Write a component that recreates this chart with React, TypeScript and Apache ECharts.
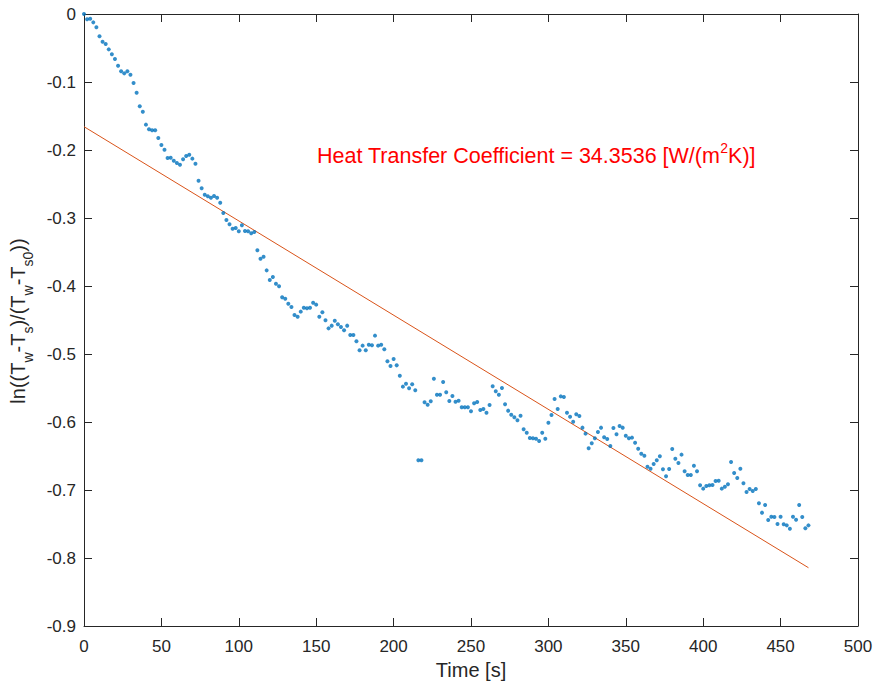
import React, { useEffect, useRef } from "react";
import * as echarts from "echarts";

// Time samples [s]
const times: number[] = [
  0, 2, 4, 6, 8, 10, 12, 14, 16, 18, 20, 22, 24, 26, 28, 30, 32, 34, 36, 38,
  40, 42, 44, 46, 48, 50, 52, 54, 56, 58, 60, 62, 64, 66, 68, 70, 72, 74, 76, 78,
  80, 82, 84, 86, 88, 90, 92, 94, 96, 98, 100, 102, 104, 106, 108, 110, 112, 114, 116, 118,
  120, 122, 124, 126, 128, 130, 132, 134, 136, 138, 140, 142, 144, 146, 148, 150, 152, 154, 156, 158,
  160, 162, 164, 166, 168, 170, 172, 174, 176, 178, 180, 182, 184, 186, 188, 190, 192, 194, 196, 198,
  200, 202, 204, 206, 208, 210, 212, 214, 216, 218, 220, 222, 224, 226, 228, 230, 232, 234, 236, 238,
  240, 242, 244, 246, 248, 250, 252, 254, 256, 258, 260, 262, 264, 266, 268, 270, 272, 274, 276, 278,
  280, 282, 284, 286, 288, 290, 292, 294, 296, 298, 300, 302, 304, 306, 308, 310, 312, 314, 316, 318,
  320, 322, 324, 326, 328, 330, 332, 334, 336, 338, 340, 342, 344, 346, 348, 350, 352, 354, 356, 358,
  360, 362, 364, 366, 368, 370, 372, 374, 376, 378, 380, 382, 384, 386, 388, 390, 392, 394, 396, 398,
  400, 402, 404, 406, 408, 410, 412, 414, 416, 418, 420, 422, 424, 426, 428, 430, 432, 434, 436, 438,
  440, 442, 444, 446, 448, 450, 452, 454, 456, 458, 460, 462, 464, 466, 468,
];

// ln((Tw-Ts)/(Tw-Ts0)) measured values
const logRatio: number[] = [
  0, -0.0078, -0.0069, -0.0123, -0.0196, -0.0328, -0.0407, -0.0441, -0.052, -0.0593,
  -0.0662, -0.076, -0.0843, -0.0873, -0.0843, -0.0892, -0.1015, -0.1157, -0.1358, -0.1436,
  -0.1627, -0.1696, -0.1711, -0.1711, -0.1824, -0.1926, -0.1995, -0.2118, -0.2113, -0.2157,
  -0.2191, -0.2216, -0.2137, -0.2088, -0.2069, -0.2127, -0.2201, -0.2451, -0.2564, -0.2657,
  -0.2681, -0.2701, -0.2676, -0.2701, -0.2775, -0.2926, -0.3029, -0.3093, -0.3157, -0.3147,
  -0.3196, -0.3108, -0.3191, -0.3196, -0.3225, -0.3206, -0.3475, -0.3598, -0.3569, -0.377,
  -0.3912, -0.3868, -0.3966, -0.4005, -0.4167, -0.4186, -0.426, -0.4309, -0.4426, -0.4451,
  -0.4377, -0.4319, -0.4328, -0.4319, -0.4245, -0.4274, -0.4451, -0.4387, -0.4505, -0.4623,
  -0.4583, -0.451, -0.4564, -0.4603, -0.4652, -0.4583, -0.4721, -0.4721, -0.4814, -0.4946,
  -0.4877, -0.4946, -0.4863, -0.4872, -0.473, -0.4877, -0.4863, -0.4931, -0.5108, -0.5176,
  -0.5074, -0.5167, -0.5319, -0.548, -0.5436, -0.5505, -0.5446, -0.5534, -0.6564, -0.6564,
  -0.5711, -0.5745, -0.5696, -0.5363, -0.5598, -0.5598, -0.5412, -0.5564, -0.5691, -0.5618,
  -0.5701, -0.5686, -0.5784, -0.5784, -0.5784, -0.5843, -0.5725, -0.5706, -0.5824, -0.5809,
  -0.5863, -0.575, -0.5475, -0.5549, -0.5598, -0.55, -0.574, -0.5833, -0.5892, -0.5931,
  -0.5975, -0.5907, -0.6108, -0.6157, -0.6235, -0.624, -0.6245, -0.6279, -0.6157, -0.6245,
  -0.601, -0.5897, -0.5662, -0.5809, -0.5623, -0.5632, -0.5863, -0.5922, -0.5995, -0.5887,
  -0.5912, -0.6083, -0.6171, -0.6387, -0.6314, -0.624, -0.6147, -0.6083, -0.6225, -0.625,
  -0.6353, -0.6088, -0.6181, -0.6059, -0.6083, -0.6201, -0.624, -0.623, -0.6304, -0.6392,
  -0.6466, -0.6495, -0.6657, -0.6686, -0.6618, -0.6564, -0.6505, -0.6696, -0.6799, -0.6691,
  -0.6397, -0.6539, -0.6603, -0.648, -0.6725, -0.6779, -0.6779, -0.6642, -0.6725, -0.6931,
  -0.698, -0.6941, -0.6931, -0.6926, -0.6868, -0.6863, -0.698, -0.6951, -0.6916, -0.6588,
  -0.675, -0.6824, -0.6686, -0.6902, -0.7029, -0.6985, -0.7015, -0.6985, -0.7196, -0.7333,
  -0.7221, -0.7441, -0.7392, -0.7397, -0.75, -0.7392, -0.7505, -0.752, -0.7569, -0.7392,
  -0.7436, -0.7221, -0.7397, -0.7564, -0.752,
];

// Linear fit endpoints
const fitTimes: number[] = [0, 468];
const fitValues: number[] = [-0.1657, -0.8143];

const xTicks = { min: 0, max: 500, interval: 50 };
const yTicks = { min: -0.9, max: 0, interval: 0.1 };

const annotationMain = "Heat Transfer Coefficient = 34.3536 [W/(m";
const annotationSup = "2";
const annotationEnd = "K)]";
const xAxisTitle = "Time [s]";

const FONT = "'Liberation Sans', Arial, Helvetica, sans-serif";
const AXIS_COLOR = "#262626";

export default function App() {
  const ref = useRef<HTMLDivElement>(null);

  useEffect(() => {
    if (!ref.current) return;
    const chart = echarts.init(ref.current, undefined, { renderer: "svg" });

    const scatterData = times.map((t, i) => [t, logRatio[i]]);
    const fitData = fitTimes.map((t, i) => [t, fitValues[i]]);

    const commonAxisLine = { show: true, onZero: false, lineStyle: { color: AXIS_COLOR, width: 1 } };
    const commonTick = { show: true, inside: true, length: 8, lineStyle: { color: AXIS_COLOR, width: 1 } };

    chart.setOption({
      animation: false,
      backgroundColor: "#ffffff",
      textStyle: { fontFamily: FONT },
      grid: { left: 84, right: 19, top: 14, bottom: 60, containLabel: false },
      xAxis: [
        {
          type: "value",
          position: "bottom",
          min: xTicks.min,
          max: xTicks.max,
          interval: xTicks.interval,
          axisLine: commonAxisLine,
          axisTick: commonTick,
          splitLine: { show: false },
          axisLabel: { color: AXIS_COLOR, fontSize: 17, margin: 12, fontFamily: FONT },
          name: xAxisTitle,
          nameLocation: "middle",
          nameGap: 34,
          nameTextStyle: { color: AXIS_COLOR, fontSize: 20, fontFamily: FONT },
        },
        {
          type: "value",
          position: "top",
          min: xTicks.min,
          max: xTicks.max,
          interval: xTicks.interval,
          axisLine: commonAxisLine,
          axisTick: commonTick,
          splitLine: { show: false },
          axisLabel: { show: false },
        },
      ],
      yAxis: [
        {
          type: "value",
          position: "left",
          min: yTicks.min,
          max: yTicks.max,
          interval: yTicks.interval,
          axisLine: commonAxisLine,
          axisTick: commonTick,
          splitLine: { show: false },
          axisLabel: {
            color: AXIS_COLOR,
            fontSize: 17,
            margin: 8,
            fontFamily: FONT,
            formatter: (v: number) => String(Math.round(v * 10) / 10),
          },
        },
        {
          type: "value",
          position: "right",
          min: yTicks.min,
          max: yTicks.max,
          interval: yTicks.interval,
          axisLine: commonAxisLine,
          axisTick: commonTick,
          splitLine: { show: false },
          axisLabel: { show: false },
        },
      ],
      series: [
        {
          type: "line",
          data: fitData,
          xAxisIndex: 0,
          yAxisIndex: 0,
          showSymbol: false,
          symbol: "none",
          lineStyle: { color: "#D95319", width: 1 },
          z: 2,
        },
        {
          type: "scatter",
          data: scatterData,
          xAxisIndex: 0,
          yAxisIndex: 0,
          symbol: "circle",
          symbolSize: 4,
          itemStyle: { color: "#0072BD" },
          z: 3,
        },
      ],
      graphic: [
        {
          type: "text",
          left: 317,
          top: 141,
          style: {
            text: "{n|" + annotationMain + "}{p|" + annotationSup + "}{n|" + annotationEnd + "}",
            fill: "#FF0000",
            font: `21.5px ${FONT}`,
            rich: {
              n: { fontSize: 21.5, lineHeight: 26, verticalAlign: "bottom", fill: "#FF0000", fontFamily: FONT },
              p: { fontSize: 14, lineHeight: 15, verticalAlign: "top", fill: "#FF0000", fontFamily: FONT },
            },
          },
        },
        {
          type: "text",
          x: 21,
          y: 321,
          rotation: Math.PI / 2,
          style: {
            text: "{n|ln((T}{s|w}{n|-T}{s|s}{n|)/(T}{s|w}{n|-T}{s|s0}{n|))}",
            align: "center",
            verticalAlign: "middle",
            fill: AXIS_COLOR,
            font: `20px ${FONT}`,
            rich: {
              n: { fontSize: 20, lineHeight: 27, verticalAlign: "top", fill: AXIS_COLOR, fontFamily: FONT },
              s: { fontSize: 14, lineHeight: 14, verticalAlign: "bottom", fill: AXIS_COLOR, fontFamily: FONT },
            },
          },
        },
      ],
    });

    return () => chart.dispose();
  }, []);

  return (
    <div
      ref={ref}
      style={{ position: "absolute", left: 0, top: 0, width: 877, height: 686 }}
    />
  );
}
